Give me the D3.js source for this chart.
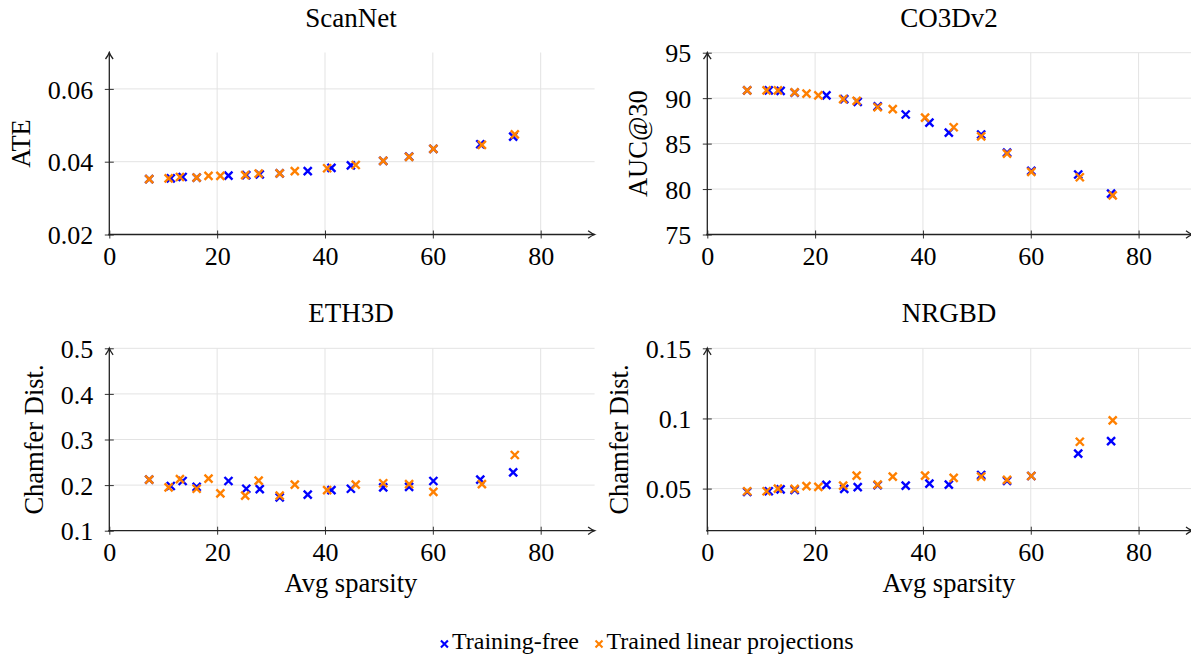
<!DOCTYPE html>
<html>
  <head>
    <meta charset="utf-8" />
    <title>Sparsity plots</title>
    <style>
      body { margin: 0; background: #fff; }
      svg text { font-family: "Liberation Serif", "Times New Roman", serif; fill: #000; }
    </style>
  </head>
  <body>
  <div id="container"></div>
  <script src="https://cdn.jsdelivr.net/npm/d3@7/dist/d3.min.js"></script>
  <script type="text/javascript">

    // avg sparsity of each run (x values), per series
    var sparsityFree = [7.4, 11.4, 13.6, 16.2, 22.1, 25.4, 27.9, 31.6, 36.8, 41.2, 44.8, 50.8, 55.6, 60.1, 68.8, 74.9];
    var sparsityTrained = [7.4, 11.0, 13.1, 16.2, 18.4, 20.6, 25.2, 27.7, 31.6, 34.4, 40.4, 45.7, 50.8, 55.6, 60.1, 69.1, 75.2];

    // ScanNet ATE
    var scannetFree = [0.0352, 0.0354, 0.0358, 0.0356, 0.0362, 0.0363, 0.0365, 0.0368, 0.0374, 0.0383, 0.0390, 0.0402, 0.0414, 0.0435, 0.0448, 0.0469];
    var scannetTrained = [0.0352, 0.0354, 0.0358, 0.0356, 0.0361, 0.0361, 0.0363, 0.0367, 0.0368, 0.0374, 0.0382, 0.0391, 0.0402, 0.0413, 0.0435, 0.0446, 0.0475];

    // CO3Dv2 AUC@30
    var co3dFree = [90.86, 90.86, 90.79, 90.6, 90.3, 89.9, 89.6, 89.1, 88.2, 87.3, 86.2, 86.0, 84.0, 82.0, 81.6, 79.5];
    var co3dTrained = [90.86, 90.86, 90.86, 90.64, 90.5, 90.3, 89.9, 89.7, 89.0, 88.8, 87.86, 86.8, 85.8, 83.9, 81.9, 81.3, 79.3];

    // ETH3D chamfer
    var eth3dFree = [0.212, 0.198, 0.209, 0.196, 0.209, 0.192, 0.191, 0.173, 0.179, 0.189, 0.192, 0.195, 0.196, 0.209, 0.212, 0.228];
    var eth3dTrained = [0.212, 0.195, 0.213, 0.192, 0.214, 0.182, 0.177, 0.210, 0.177, 0.201, 0.189, 0.201, 0.204, 0.202, 0.185, 0.202, 0.266];

    // NRGBD chamfer
    var nrgbdFree = [0.0476, 0.0481, 0.0495, 0.0490, 0.0526, 0.0498, 0.0510, 0.0524, 0.0521, 0.0536, 0.0528, 0.0597, 0.0555, 0.0590, 0.0749, 0.0839];
    var nrgbdTrained = [0.0481, 0.0481, 0.0500, 0.0498, 0.0517, 0.0512, 0.0521, 0.0592, 0.0528, 0.0585, 0.0592, 0.0576, 0.0585, 0.0562, 0.0590, 0.0834, 0.0986];

    // tick labels
    var xTicks = [0, 20, 40, 60, 80];
    var scannetTicks = [0.02, 0.04, 0.06];
    var co3dTicks = [75, 80, 85, 90, 95];
    var eth3dTicks = [0.1, 0.2, 0.3, 0.4, 0.5];
    var nrgbdTicks = [0.05, 0.1, 0.15];

    var seriesNames = ['Training-free', 'Trained linear projections'];
    var colors = ['#0000ff', '#ff8000'];

    var width = 1191;
    var height = 657;
    var fontFam = '"Liberation Serif", serif';

    var svg = d3.select('#container').append('svg')
      .attr('width', width).attr('height', height);

    svg.append('defs').append('marker')
      .attr('id', 'tip').attr('viewBox', '-8 -5 10 10')
      .attr('refX', 0).attr('refY', 0)
      .attr('markerWidth', 10).attr('markerHeight', 10)
      .attr('markerUnits', 'userSpaceOnUse')
      .attr('orient', 'auto')
      .append('path')
      .attr('d', 'M-6.5,-3.8 Q-2.5,-0.8 0,0 Q-2.5,0.8 -6.5,3.8')
      .attr('fill', 'none').attr('stroke', '#222').attr('stroke-width', 1.3);

    // layout of the four panels
    var panels = [
      {title: 'ScanNet', ylabel: 'ATE', free: scannetFree, trained: scannetTrained,
       ydom: [0.02, 0.07], yticks: scannetTicks, left: 109.3, right: 594.6, top: 52.5, bottom: 234.5, xlabel: false},
      {title: 'CO3Dv2', ylabel: 'AUC@30', free: co3dFree, trained: co3dTrained,
       ydom: [75, 95], yticks: co3dTicks, left: 707.3, right: 1192.5, top: 52.7, bottom: 234.5, xlabel: false},
      {title: 'ETH3D', ylabel: 'Chamfer Dist.', free: eth3dFree, trained: eth3dTrained,
       ydom: [0.1, 0.5], yticks: eth3dTicks, left: 109.3, right: 594.6, top: 348.3, bottom: 530.7, xlabel: true},
      {title: 'NRGBD', ylabel: 'Chamfer Dist.', free: nrgbdFree, trained: nrgbdTrained,
       ydom: [0.02, 0.15], yticks: nrgbdTicks, left: 707.3, right: 1192.5, top: 348.3, bottom: 530.7, xlabel: true}
    ];

    var crossPath = function(s){
      return 'M' + (-s) + ',' + (-s) + 'L' + s + ',' + s + 'M' + (-s) + ',' + s + 'L' + s + ',' + (-s);
    };

    panels.forEach(function(p){
      var x = d3.scaleLinear().domain([0, 90]).range([p.left, p.right]);
      var y = d3.scaleLinear().domain(p.ydom).range([p.bottom, p.top]);
      var g = svg.append('g');

      // grid
      g.append('g').selectAll('line').data(xTicks.filter(function(d){return d > 0;})).enter().append('line')
        .attr('x1', function(d){return x(d);}).attr('x2', function(d){return x(d);})
        .attr('y1', p.bottom).attr('y2', p.top)
        .attr('stroke', '#e3e3e3').attr('stroke-width', 1);
      g.append('g').selectAll('line').data(p.yticks.filter(function(d){return d > p.ydom[0];})).enter().append('line')
        .attr('x1', p.left).attr('x2', p.right)
        .attr('y1', function(d){return y(d);}).attr('y2', function(d){return y(d);})
        .attr('stroke', '#e3e3e3').attr('stroke-width', 1);

      // axes (labels + ticks through d3 axes, own arrow lines)
      var xa = g.append('g').attr('transform', 'translate(0,' + p.bottom + ')')
        .call(d3.axisBottom(x).tickValues(xTicks).tickSizeOuter(0).tickFormat(d3.format('d')));
      xa.select('.domain').remove();
      xa.selectAll('.tick line').attr('y1', -4).attr('y2', 4).attr('stroke', '#333').attr('stroke-width', 1);
      xa.selectAll('.tick text').attr('y', 30.5).attr('dy', 0)
        .style('font-size', '26px').style('font-family', fontFam).attr('fill', '#000');

      var ya = g.append('g').attr('transform', 'translate(' + p.left + ',0)')
        .call(d3.axisLeft(y).tickValues(p.yticks).tickSizeOuter(0).tickFormat(function(d){return String(d);}));
      ya.select('.domain').remove();
      ya.selectAll('.tick line').attr('x1', -4.5).attr('x2', 4.5).attr('stroke', '#333').attr('stroke-width', 1);
      ya.selectAll('.tick text').attr('x', -16).attr('dy', '0.35em')
        .style('font-size', '26px').style('font-family', fontFam).attr('fill', '#000');

      g.append('line').attr('x1', p.left - 1).attr('x2', p.right)
        .attr('y1', p.bottom).attr('y2', p.bottom)
        .attr('stroke', '#222').attr('stroke-width', 1.3).attr('marker-end', 'url(#tip)');
      g.append('line').attr('x1', p.left).attr('x2', p.left)
        .attr('y1', p.bottom + 1).attr('y2', p.top)
        .attr('stroke', '#222').attr('stroke-width', 1.3).attr('marker-end', 'url(#tip)');

      // marks: training-free first, trained on top
      [[sparsityFree, p.free], [sparsityTrained, p.trained]].forEach(function(s, i){
        g.append('g').selectAll('path').data(d3.zip(s[0], s[1])).enter().append('path')
          .attr('transform', function(d){return 'translate(' + x(d[0]) + ',' + y(d[1]) + ')';})
          .attr('d', crossPath(4))
          .attr('fill', 'none').attr('stroke', colors[i]).attr('stroke-width', 2.4);
      });

      // title
      g.append('text').attr('x', (p.left + p.right) / 2 - 1).attr('y', p.top - 26)
        .attr('text-anchor', 'middle').style('font-size', '27px').text(p.title);

      // y label, placed left of the widest tick label
      var minLeft = d3.min(ya.selectAll('.tick text').nodes(), function(n){
        var b = n.getBBox(); return p.left + b.x;
      });
      g.append('text')
        .attr('transform', 'translate(' + (minLeft - 18) + ',' + ((p.top + p.bottom) / 2) + ') rotate(-90)')
        .attr('text-anchor', 'middle').style('font-size', '26.5px').text(p.ylabel);

      if(p.xlabel){
        g.append('text').attr('x', (p.left + p.right) / 2 - 1).attr('y', p.bottom + 61)
          .attr('text-anchor', 'middle').style('font-size', '26.5px').text('Avg sparsity');
      }
    });

    // legend
    var legend = svg.append('g');
    var lx = 0;
    seriesNames.forEach(function(name, i){
      legend.append('path').attr('transform', 'translate(' + (lx + 4) + ',-4.5)')
        .attr('d', crossPath(3.5)).attr('fill', 'none').attr('stroke', colors[i]).attr('stroke-width', 2.1);
      var t = legend.append('text').attr('x', lx + 11.5).attr('y', 0)
        .style('font-size', '24px').text(name);
      lx += 11.5 + t.node().getComputedTextLength() + 16;
    });
    var lw = lx - 16;
    legend.attr('transform', 'translate(' + (647 - lw / 2) + ',648.5)');

  </script>
  </body>
</html>
